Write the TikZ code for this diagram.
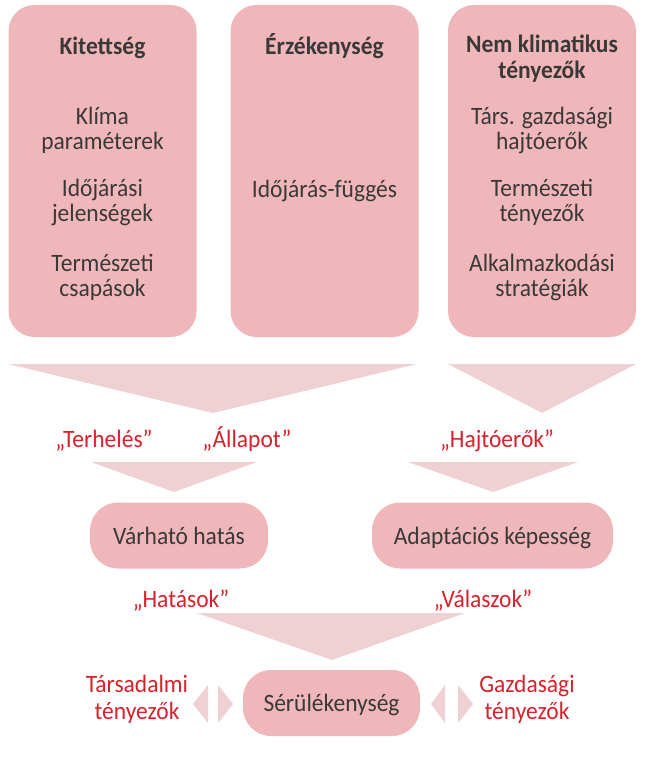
\documentclass[tikz,border=0pt]{standalone}
\usepackage{fontspec}
\setmainfont{Carlito}[FakeStretch=0.94]
\definecolor{boxpink}{RGB}{240,183,187}
\definecolor{wedgepink}{RGB}{239,208,211}
\definecolor{darktext}{RGB}{58,56,56}
\definecolor{labelred}{RGB}{214,34,44}

\begin{document}
\begin{tikzpicture}[x=1pt,y=-1pt]
	%
	% `column' is used for the three tall boxes, `pill' for the rounded ones.
	% `wedge' is used for the pale triangles between the rows.
	\tikzstyle{column} = [fill=boxpink,rounded corners=26pt,minimum width=188pt,minimum height=332pt,inner sep=0pt]
	\tikzstyle{pill} = [fill=boxpink,rounded corners=28pt,minimum height=66pt,inner sep=0pt,text height=17pt,text depth=0pt,text=darktext,font=\fontsize{25}{25}\selectfont]
	\tikzstyle{boxtext} = [text=darktext,align=center,font=\fontsize{25}{25}\selectfont]
	\tikzstyle{boxhead} = [boxtext,font=\bfseries\fontsize{25}{26}\selectfont]
	\tikzstyle{redtext} = [text=labelred,align=center,font=\fontsize{25}{27}\selectfont]
	\tikzstyle{wedge} = [fill=wedgepink]
	%
	\useasboundingbox (0,0) rectangle (645,762);
	%
	% Columns
	\node[column] (kit) at (102.5,171) {};
	\node[column] (erz) at (324.5,171) {};
	\node[column] (nem) at (542,171) {};
	%
	% Column 1
	\node[boxhead,anchor=base] (kit0) at (kit.center |- 0,55) {Kitettség};
	\node[boxtext] (kit1) at (kit.center |- 0,130) {Klíma\\paraméterek};
	\node[boxtext] (kit2) at (kit.center |- 0,202.5) {Időjárási\\jelenségek};
	\node[boxtext] (kit3) at (kit.center |- 0,277.5) {Természeti\\csapások};
	%
	% Column 2
	\node[boxhead,anchor=base] (erz0) at (erz.center |- 0,55) {Érzékenység};
	\node[boxtext,anchor=base] (erz1) at (erz.center |- 0,197) {Időjárás-függés};
	%
	% Column 3
	\node[boxhead] (nem0) at (nem.center |- 0,59) {Nem klimatikus\\tényezők};
	\node[boxtext] (nem1) at (nem.center |- 0,130) {Társ. gazdasági\\hajtóerők};
	\node[boxtext] (nem2) at (nem.center |- 0,202.5) {Természeti\\tényezők};
	\node[boxtext] (nem3) at (nem.center |- 0,277.5) {Alkalmazkodási\\stratégiák};
	%
	% First wedges
	\fill[wedge] (8,364) -- (417,364) -- (213,413) -- cycle;
	\fill[wedge] (448,364) -- (636,364) -- (542,413) -- cycle;
	%
	% Labels
	\node[redtext,anchor=base] (terh) at (104,447) {„Terhelés”};
	\node[redtext,anchor=base] (allap) at (247,447) {„Állapot”};
	\node[redtext,anchor=base] (hajt) at (497,447) {„Hajtóerők”};
	%
	% Second wedges
	\fill[wedge] (91,462) -- (257,462) -- (174,492) -- cycle;
	\fill[wedge] (408,462) -- (578,462) -- (493,492) -- cycle;
	%
	% Middle row
	\node[pill,minimum width=178pt] (varh) at (179,535.5) {Várható hatás};
	\node[pill,minimum width=241pt] (adapt) at (492.5,535.5) {Adaptációs képesség};
	\node[redtext,anchor=base] (hat) at (181,607) {„Hatások”};
	\node[redtext,anchor=base] (val) at (483,607) {„Válaszok”};
	\fill[wedge] (197,613) -- (465,613) -- (332,660) -- cycle;
	%
	% Bottom row
	\node[pill,minimum width=177pt] (seru) at (331.5,703) {Sérülékenység};
	\node[redtext] (tars) at (137,699) {Társadalmi\\tényezők};
	\node[redtext] (gazd) at (527,699) {Gazdasági\\tényezők};
	\fill[wedge] (193,704) -- (208,685) -- (208,723) -- cycle;
	\fill[wedge] (233,704) -- (218,685) -- (218,723) -- cycle;
	\fill[wedge] (431,704) -- (445,685) -- (445,723) -- cycle;
	\fill[wedge] (473,704) -- (458,685) -- (458,723) -- cycle;
	%
\end{tikzpicture}
\end{document}
